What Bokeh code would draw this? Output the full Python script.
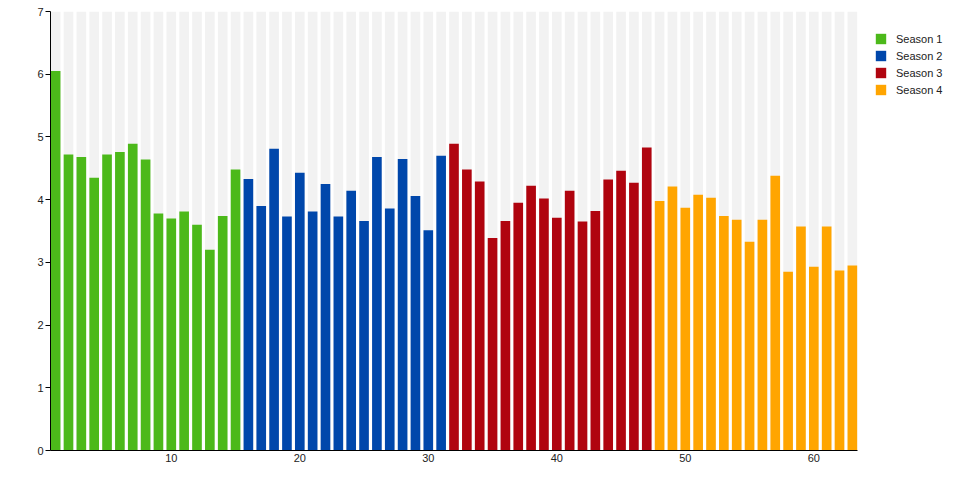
from bokeh.plotting import figure
from bokeh.models import ColumnDataSource, Legend, LegendItem, Range1d, FixedTicker
from bokeh.embed import file_html
from bokeh.resources import INLINE

seasons = ["Season 1", "Season 2", "Season 3", "Season 4"]
colors = ["#4cb91a", "#0047ab", "#b0040f", "#ffa500"]
season1 = [6.05, 4.72, 4.68, 4.35, 4.72, 4.76, 4.89, 4.64, 3.78, 3.70, 3.81, 3.60, 3.20, 3.74, 4.48]
season2 = [4.33, 3.90, 4.81, 3.73, 4.43, 3.81, 4.25, 3.73, 4.14, 3.66, 4.68, 3.86, 4.65, 4.06, 3.51, 4.70]
season3 = [4.89, 4.48, 4.29, 3.39, 3.66, 3.95, 4.22, 4.02, 3.71, 4.14, 3.65, 3.82, 4.32, 4.46, 4.27, 4.83]
season4 = [3.98, 4.21, 3.87, 4.08, 4.03, 3.74, 3.68, 3.33, 3.68, 4.38, 2.85, 3.57, 2.93, 3.57, 2.87, 2.95]
all_series = [season1, season2, season3, season4]
y_max = 7
x_ticks = [10, 20, 30, 40, 50, 60]
y_ticks = [0, 1, 2, 3, 4, 5, 6, 7]

n_total = sum(len(s) for s in all_series)

# layout: data area 807 px wide; frame extended to the right to host the legend
W, H = 946, 480
left_b, top_b, bottom_b = 50, 11, 30
data_px = 807
frame_px = W - left_b
bar_w = 0.75
x_start = 1 - 0.4
x_data_end = n_total + 0.4
x_end = x_start + frame_px * (x_data_end - x_start) / data_px

p = figure(width=W, height=H, output_backend="svg", toolbar_location=None,
           x_range=Range1d(x_start, x_end), y_range=Range1d(0, y_max),
           min_border_left=left_b, min_border_top=top_b, min_border_bottom=bottom_b,
           min_border_right=0)
p.outline_line_color = None
p.xgrid.visible = False
p.ygrid.visible = False

# background bars
p.vbar(x=list(range(1, n_total + 1)), top=[y_max] * n_total, bottom=0, width=bar_w,
       fill_color="#f2f2f2", line_color=None)

items = []
start = 1
for name, col, vals in zip(seasons, colors, all_series):
    xs = list(range(start, start + len(vals)))
    src = ColumnDataSource(dict(x=xs, top=vals))
    r = p.vbar(x="x", top="top", bottom=0, width=bar_w, source=src,
               fill_color=col, line_color=None)
    items.append(LegendItem(label=name, renderers=[r]))
    start += len(vals)

legend = Legend(items=items, location=(data_px + 17, 354), border_line_color=None,
                background_fill_alpha=0, padding=0, margin=0,
                glyph_width=13, glyph_height=13, label_height=13, spacing=4,
                label_standoff=9, label_text_font="Liberation Sans",
                label_text_font_size="11px", label_text_color="#222222")
p.add_layout(legend, "center")

for ax in (p.xaxis[0], p.yaxis[0]):
    ax.axis_line_color = "black"
    ax.major_label_text_font = "Liberation Sans"
    ax.major_label_text_font_size = "11px"
    ax.major_label_text_color = "#222222"
    ax.minor_tick_line_color = None

p.xaxis.bounds = (x_start, x_data_end)
p.xaxis.ticker = FixedTicker(ticks=x_ticks)
p.xaxis.major_tick_out = 0
p.xaxis.major_tick_in = 0
p.xaxis.major_label_standoff = 3
p.yaxis.ticker = FixedTicker(ticks=y_ticks)
p.yaxis.major_tick_out = 5
p.yaxis.major_tick_in = 0
p.yaxis.major_tick_line_color = "black"
p.yaxis.major_label_standoff = 2

open("out.html", "w").write(file_html(p, INLINE))
